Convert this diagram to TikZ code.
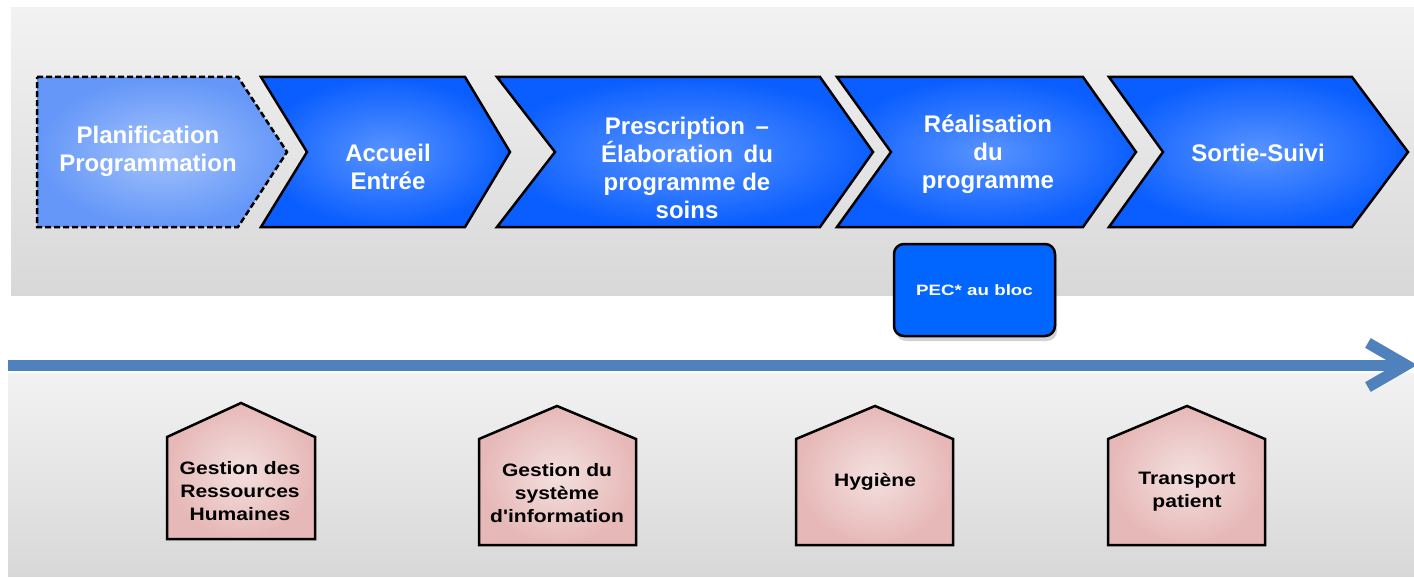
\documentclass[tikz,border=0pt]{standalone}
\usepackage{fontspec}
\setmainfont{Liberation Sans}
\newfontfamily\widefont{Liberation Sans}[FakeStretch=1.17]
\newfontfamily\pecfont{Liberation Sans}[FakeStretch=1.25]
\usepackage{tikz}
\usetikzlibrary{shadows}

\definecolor{bandtop}{HTML}{F2F2F2}
\definecolor{bandbot}{HTML}{D8D8D8}
\definecolor{chevout}{HTML}{0A5EFF}
\definecolor{chevin}{HTML}{5994FF}
\definecolor{planout}{HTML}{6497F8}
\definecolor{planin}{HTML}{A3C2FC}
\definecolor{pecblue}{HTML}{0066FF}
\definecolor{timeblue}{HTML}{4F81BD}
\definecolor{roseout}{HTML}{E6B8B7}
\definecolor{rosein}{HTML}{F3E0DF}

\begin{document}
\begin{tikzpicture}[x=1pt,y=-1pt,
  chev/.style={inner color=chevin,outer color=chevout,draw=black,line width=2.5pt,line join=miter},
  chevtext/.style={text=white,font=\bfseries\fontsize{24}{28}\selectfont,align=center},
  housebox/.style={inner color=rosein,outer color=roseout,draw=black,line width=2.5pt},
  housetext/.style={font=\widefont\bfseries\fontsize{18}{23}\selectfont,align=center},
  timeline/.style={timeblue,line width=11pt},
  timeshadow/.style={black!35,line width=11pt,yshift=-4pt}]
\useasboundingbox[fill=white] (0,0) rectangle (1414,578);
% background bands
\shade[top color=bandtop,bottom color=bandbot] (11,8) rectangle (1414,295);
\shade[top color=bandtop,bottom color=bandbot] (8,373) rectangle (1414,576);

% time line
\coordinate (tl-start) at (8,365);
\coordinate (tl-end) at (1406,365);
\draw[timeshadow] (tl-start) -- (tl-end);
\draw[timeshadow] (tl-end) ++(-38,-22) -- (tl-end) -- ++(-38,22);
\draw[timeline] (tl-start) -- (tl-end);
\draw[timeline] (tl-end) ++(-38,-22) -- (tl-end) -- ++(-38,22);

% process chevrons
\shadedraw[chev,inner color=planin,outer color=planout,draw=none] (37,77) -- (238,77) -- (287,152) -- (238,227) -- (37,227) -- cycle;
\draw[black,line width=2.5pt,dash pattern=on 6pt off 3pt] (37,77) -- (238,77) -- (287,152) -- (238,227) -- (37,227) -- cycle;
\shadedraw[chev] (261,77) -- (465,77) -- (510,152) -- (465,227) -- (261,227) -- (307,152) -- cycle;
\shadedraw[chev] (497,77) -- (820,77) -- (873,152) -- (820,227) -- (497,227) -- (555,152) -- cycle;
\shadedraw[chev] (837,77) -- (1083,77) -- (1136,152) -- (1083,227) -- (837,227) -- (891,152) -- cycle;
\shadedraw[chev] (1109,77) -- (1352,77) -- (1408,152) -- (1352,227) -- (1109,227) -- (1163,152) -- cycle;

\node[chevtext] (planif) at (148,151) {Planification\\Programmation};
\node[chevtext] (accueil) at (388,167) {Accueil\\Entrée};
\node[chevtext] (prescr) at (687,168) {Prescription \,--\\Élaboration\, du\\programme de\\soins};
\node[chevtext] (realis) at (988,154) {Réalisation\\du\\programme};
\node[chevtext] (sortie) at (1258,153) {Sortie-Suivi};

% bloc
\node[draw=black,line width=2.5pt,fill=pecblue,rounded corners=10pt,minimum width=161pt,minimum height=92pt,
  drop shadow={shadow xshift=2pt,shadow yshift=-5pt,opacity=0.35},
  text=white,font=\pecfont\bfseries\fontsize{15}{18}\selectfont] (pec) at (974.5,290) {PEC* au bloc};

% support houses
\shadedraw[housebox] (167,539) -- (167,437) -- (241,403) -- (315,437) -- (315,539) -- cycle;
\shadedraw[housebox] (479,545) -- (479,439) -- (557,406) -- (636,439) -- (636,545) -- cycle;
\shadedraw[housebox] (796,545) -- (796,439) -- (875,406) -- (953,439) -- (953,545) -- cycle;
\shadedraw[housebox] (1108,545) -- (1108,439) -- (1187,406) -- (1265,439) -- (1265,545) -- cycle;

\node[housetext] (grh) at (240,491) {Gestion des\\Ressources\\Humaines};
\node[housetext] (gsi) at (557,493) {Gestion du\\système\\d'information};
\node[housetext] (hyg) at (875,482) {Hygiène};
\node[housetext] (transp) at (1187,492) {Transport\\patient};
\end{tikzpicture}
\end{document}
